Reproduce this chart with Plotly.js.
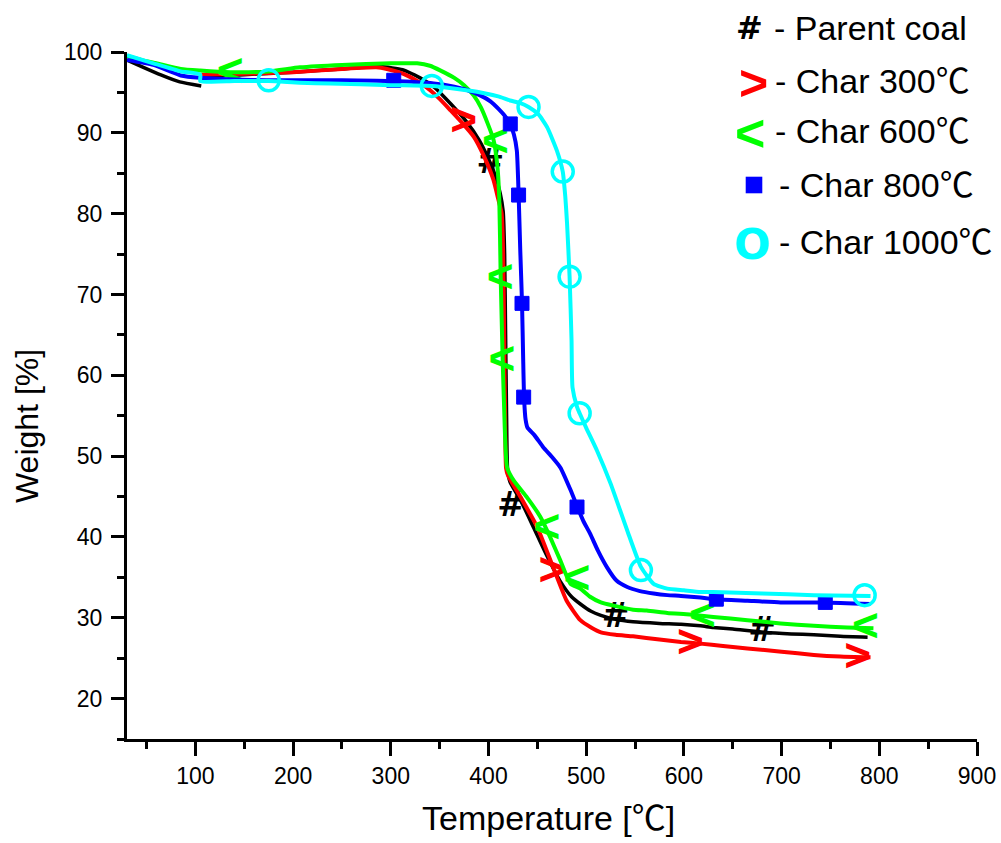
<!DOCTYPE html>
<html>
<head>
<meta charset="utf-8">
<script src="https://cdn.plot.ly/plotly-3.0.1.min.js"></script>
<style>
  html, body { margin: 0; padding: 0; background: #fff; }
  #chart { width: 1001px; height: 843px; }
</style>
</head>
<body>
<div id="chart"></div>
<script>
// TG curves: weight loss of the parent coal and of chars made at 300-1000 ℃
const parentTemp   = [30, 45, 64, 84, 106, null, 106, 150, 200, 250, 290, 312, 330, 345, 362, 378, 390, 400, 407, 412, 415, 416.5, 417.5, 418.5, 419.5, 422, 433, 446, 460, 473, 485, 494, 505, 515, 530, 548, 575, 597, 617, 630, 650, 682, 710, 733, 760, 788];
const parentWeight = [99.0, 98.2, 97.2, 96.3, 95.8, null, 97.1, 97.2, 97.5, 97.9, 98.2, 97.8, 96.8, 95.6, 93.5, 91.3, 89.2, 86.8, 84.7, 82.5, 80.3, 75, 65, 55, 48.5, 46.8, 44.5, 41.2, 37.6, 34.6, 32.6, 31.7, 30.8, 30.3, 29.8, 29.5, 29.3, 29.2, 29.0, 28.8, 28.6, 28.2, 28.0, 27.9, 27.7, 27.6];
const parentMarkTemp   = [402, 423, 530, 680];
const parentMarkWeight = [86.0, 43.6, 29.9, 28.2];

const char300Temp   = [106, 150, 200, 250, 285, 296, 313, 330, 340, 350, 361, 374, 385, 395, 405, 410, 413.5, 415, 416, 417, 418, 420, 433, 450, 466, 480, 494, 505, 515, 530, 548, 575, 597, 617, 640, 665, 700, 733, 760, 791];
const char300Weight = [97.2, 97.3, 97.5, 97.9, 98.1, 97.9, 97.3, 96.2, 95.3, 94.2, 92.8, 91.1, 89.5, 87.2, 84.2, 81.8, 80.0, 75, 65, 55, 48.5, 47.6, 44.9, 41.2, 36.3, 32.1, 29.7, 28.8, 28.2, 27.9, 27.7, 27.3, 27.0, 26.8, 26.5, 26.2, 25.8, 25.4, 25.2, 25.1];
const char300MarkTemp   = [374.5, 465, 606.7, 778];
const char300MarkWeight = [91.1, 35.5, 26.6, 24.8];

const char600Temp   = [30, 45, 60, 85, 105, 136, 175, 207, 250, 300, 327, 340, 351, 365, 375, 385, 392, 399, 405, 409, 411, 412.5, 414.5, 416, 419, 425.7, 439.4, 453, 463, 473.5, 484, 494, 504, 515, 528, 548, 562, 583, 606, 630, 665, 699, 733, 767, 794];
const char600Weight = [99.5, 99.0, 98.6, 97.9, 97.7, 97.5, 97.6, 98.1, 98.4, 98.6, 98.6, 98.3, 97.7, 96.8, 95.9, 94.6, 93.2, 91.2, 89.2, 86.0, 82.0, 72.0, 62.0, 56.0, 48.6, 47.0, 44.9, 42.5, 40.0, 37.1, 34.2, 33.6, 32.6, 31.9, 31.5, 31.0, 30.9, 30.6, 30.4, 30.1, 29.7, 29.3, 29.0, 28.8, 28.7];
const char600MarkTemp   = [135.7, 407, 412, 413.8, 459.8, 490.6, 619, 785.7];
const char600MarkWeight = [97.2, 88.5, 71.7, 61.6, 40.8, 34.5, 29.9, 28.5];

const char800Temp   = [30, 57, 85, 105, 140, 173, 207, 250, 300, 344, 365, 378, 392, 402, 410, 416, 422, 426, 429, 430.8, 432.5, 434.3, 435.5, 436.5, 438, 440, 447, 456, 465, 473.5, 484, 491, 497, 504, 512, 521, 531, 542, 555, 569, 583, 597, 617, 633, 665, 699, 745, 791];
const char800Weight = [99.0, 98.4, 97.1, 96.8, 96.6, 96.5, 96.5, 96.5, 96.4, 96.1, 95.7, 95.3, 94.6, 93.9, 93.0, 92.2, 91.1, 89.8, 87.8, 82.5, 75.5, 69.0, 62.0, 57.0, 54.5, 53.5, 52.6, 51.1, 49.9, 48.6, 45.8, 43.7, 42.0, 40.4, 38.3, 36.3, 34.6, 33.8, 33.3, 33.0, 32.8, 32.7, 32.5, 32.3, 32.1, 31.9, 31.9, 31.7];
const char800MarkTemp   = [303, 422.3, 430.8, 434.3, 436, 490.6, 633.2, 744.7];
const char800MarkWeight = [96.5, 91.1, 82.3, 68.9, 57.3, 43.7, 32.3, 31.9];

const char1000Temp   = [30, 57, 85, 105, 105, 140, 175, 207, 238, 300, 342, 370, 392, 410, 422, 432, 441, 451, 460, 470, 476, 478.6, 480.4, 483, 485, 486, 490.6, 493.3, 500, 511, 525, 542, 556, 569, 583, 600, 617, 630, 680, 733, 791];
const char1000Weight = [99.6, 98.6, 97.6, 97.2, 96.4, 96.4, 96.4, 96.2, 96.1, 95.9, 95.8, 95.4, 95.0, 94.5, 94.0, 93.7, 93.2, 92.3, 90.7, 87.8, 85.2, 82.1, 78.8, 72.2, 64.3, 58.5, 56.1, 55.3, 53.5, 50.7, 46.6, 40.8, 36.3, 34.2, 33.6, 33.4, 33.2, 33.2, 33.0, 32.8, 32.7];
const char1000MarkTemp   = [175, 342, 441, 476, 483, 493.3, 556, 785];
const char1000MarkWeight = [96.5, 95.8, 93.2, 85.2, 72.2, 55.3, 35.9, 32.8];

const seriesNames  = ['- Parent coal', '- Char 300℃', '- Char 600℃', '- Char 800℃', '- Char 1000℃'];
const seriesColors = ['#000000', '#ff0000', '#00ff00', '#0000ff', '#00ffff'];

const FONT = 'Liberation Sans, Arial, Noto Sans CJK SC, sans-serif';
const HEAVY = 'DejaVu Sans, Liberation Sans, sans-serif';

function curve(x, y, color, width) {
  return {
    type: 'scatter', mode: 'lines', x: x, y: y,
    line: {color: color, width: width, shape: 'spline', smoothing: 0.5},
    hoverinfo: 'skip', cliponaxis: false
  };
}
function glyphMarks(x, y, glyph, color, size, family) {
  return {
    type: 'scatter', mode: 'text', x: x, y: y,
    text: x.map(() => '<b>' + glyph + '</b>'), textposition: 'middle center',
    textfont: {family: family, size: size, color: color, weight: 'bold'},
    hoverinfo: 'skip', cliponaxis: false
  };
}
function shapeMarks(x, y, symbol, color, size, lineWidth) {
  return {
    type: 'scatter', mode: 'markers', x: x, y: y,
    marker: {symbol: symbol, color: color, size: size,
             line: {color: color, width: lineWidth}},
    hoverinfo: 'skip', cliponaxis: false
  };
}

const traces = [
  curve(parentTemp, parentWeight, seriesColors[0], 3.5),
  glyphMarks(parentMarkTemp, parentMarkWeight, '#', seriesColors[0], 33, HEAVY),
  curve(char300Temp, char300Weight, seriesColors[1], 4),
  glyphMarks(char300MarkTemp, char300MarkWeight, '&gt;', seriesColors[1], 46, FONT),
  curve(char600Temp, char600Weight, seriesColors[2], 4),
  glyphMarks(char600MarkTemp, char600MarkWeight, '&lt;', seriesColors[2], 46, FONT),
  curve(char800Temp, char800Weight, seriesColors[3], 4),
  shapeMarks(char800MarkTemp, char800MarkWeight, 'square', seriesColors[3], 14, 1),
  curve(char1000Temp, char1000Weight, seriesColors[4], 4),
  shapeMarks(char1000MarkTemp, char1000MarkWeight, 'circle-open', seriesColors[4], 21, 3.5)
];

// plot area in pixels: x 127..977, y 52..739
const PX0 = 127, PX1 = 977, PY0 = 52, PY1 = 739;
const px = v => (v - PX0) / (PX1 - PX0);
const py = v => (PY1 - v) / (PY1 - PY0);

// legend key: glyph column, then label column
const legendRowY  = [28, 81, 131, 185, 242];
const legendTextX = [772, 773, 773, 776.5, 776.5];
const legendGlyph = [
  {t: '#', x: 749.5, y: 28.3, size: 32, family: HEAVY},
  {t: '&gt;', x: 753.3, y: 83.3, size: 50, family: FONT},
  {t: '&lt;', x: 750.3, y: 132.5, size: 52, family: FONT},
  null,
  {t: 'O', x: 752.3, y: 244, size: 43, family: HEAVY}
];

const annotations = [];
seriesNames.forEach((name, i) => {
  annotations.push({
    xref: 'paper', yref: 'paper', x: px(legendTextX[i]), y: py(legendRowY[i]),
    xanchor: 'left', yanchor: 'middle', showarrow: false, text: name,
    font: {family: FONT, size: 34, color: '#000'}
  });
  const g = legendGlyph[i];
  if (g) {
    annotations.push({
      xref: 'paper', yref: 'paper', x: px(g.x), y: py(g.y),
      xanchor: 'center', yanchor: 'middle', showarrow: false, text: '<b>' + g.t + '</b>',
      font: {family: g.family, size: g.size, color: seriesColors[i], weight: 'bold'}
    });
  }
});

// axis titles
annotations.push({
  xref: 'paper', yref: 'paper', x: px(548), y: py(818),
  xanchor: 'center', yanchor: 'middle', showarrow: false,
  text: 'Temperature [℃]', font: {family: FONT, size: 34, color: '#000'}
});
annotations.push({
  xref: 'paper', yref: 'paper', x: px(27), y: py(505),
  xanchor: 'center', yanchor: 'bottom', showarrow: false, textangle: -90,
  text: 'Weight [%]', font: {family: FONT, size: 32, color: '#000'}
});

const shapes = [{
  type: 'rect', xref: 'paper', yref: 'paper',
  x0: px(745.7), x1: px(762.3), y0: py(193.3), y1: py(176.7),
  fillcolor: seriesColors[3], line: {width: 0}
}];

const axisCommon = {
  ticks: 'outside', tickwidth: 3, tickcolor: '#000',
  showline: true, linewidth: 3, linecolor: '#000',
  showgrid: false, zeroline: false,
  tickfont: {family: FONT, size: 23, color: '#000'}
};

const layout = {
  width: 1001, height: 843,
  margin: {l: PX0, r: 1001 - PX1, t: PY0, b: 843 - PY1, pad: 0},
  paper_bgcolor: '#fff', plot_bgcolor: '#fff',
  showlegend: false,
  font: {family: FONT, color: '#000'},
  xaxis: Object.assign({}, axisCommon, {
    range: [30, 900], tick0: 0, dtick: 100, ticklen: 14,
    minor: {tick0: 0, dtick: 50, ticks: 'outside', ticklen: 7, tickwidth: 3, tickcolor: '#000', showgrid: false}
  }),
  yaxis: Object.assign({}, axisCommon, {
    range: [15, 100], tick0: 0, dtick: 10, ticklen: 13, ticklabelstandoff: 4,
    minor: {tick0: 0, dtick: 5, ticks: 'outside', ticklen: 7, tickwidth: 3, tickcolor: '#000', showgrid: false}
  }),
  annotations: annotations,
  shapes: shapes
};

Plotly.newPlot('chart', traces, layout, {displayModeBar: false, staticPlot: true});
</script>
</body>
</html>
